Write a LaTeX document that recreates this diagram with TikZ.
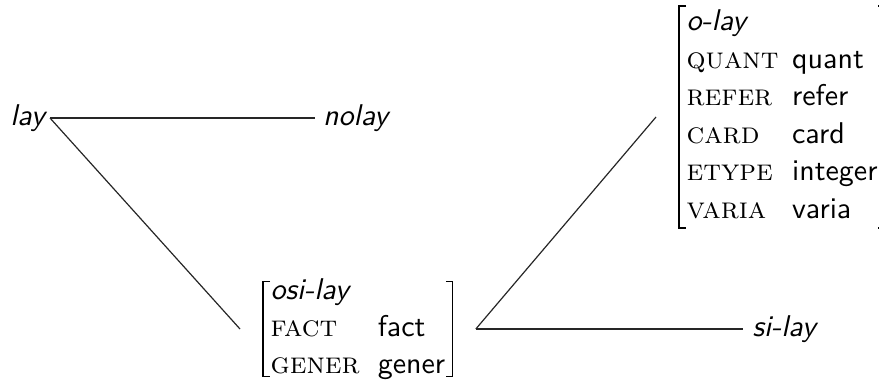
\documentclass[tikz,border=0pt]{standalone}
\usepackage{array}
\renewcommand{\arraystretch}{1.04}
\begin{document}
\begin{tikzpicture}[x=0.3333pt,y=-0.3333pt,
  lab/.style={font=\sffamily\itshape, inner sep=2pt},
  avmnode/.style={inner xsep=10pt, inner ysep=0pt},
  edge/.style={draw=black!85, line width=0.4pt},
  brk/.style={draw=black, line width=0.45pt}
]
\useasboundingbox (0,0) rectangle (879,380);
\node[lab,anchor=east,inner xsep=1.5pt] (lay) at (50,118) {lay};
\node[lab,anchor=west,inner xsep=2.5pt] (nolay) at (315,118) {nolay};
\node[avmnode,anchor=west] (osi) at (240,329) {$\begin{array}{@{}l@{\hspace{6pt}}l@{}}
\multicolumn{2}{@{}l}{\textsf{\textit{osi-lay}}}\\
\textsc{fact} & \textsf{fact}\\
\textsc{gener} & \textsf{gener}
\end{array}$};
\node[avmnode,anchor=west] (olay) at (656,117) {$\begin{array}{@{}l@{\hspace{4.5pt}}l@{}}
\multicolumn{2}{@{}l}{\textsf{\textit{o-lay}}}\\
\textsc{quant} & \textsf{quant}\\
\textsc{refer} & \textsf{refer}\\
\textsc{card} & \textsf{card}\\
\textsc{etype} & \textsf{integer}\\
\textsc{varia} & \textsf{varia}
\end{array}$};
\node[lab,anchor=west,inner xsep=3pt] (silay) at (743,329) {si-lay};
% brackets
\draw[brk] ([shift={(30,9)}]osi.north west) -- ([shift={(23,9)}]osi.north west)
  -- ([shift={(23,-9)}]osi.south west) -- ([shift={(30,-9)}]osi.south west);
\draw[brk] ([shift={(-30,9)}]osi.north east) -- ([shift={(-23,9)}]osi.north east)
  -- ([shift={(-23,-9)}]osi.south east) -- ([shift={(-30,-9)}]osi.south east);
\draw[brk] ([shift={(30,2)}]olay.north west) -- ([shift={(23,2)}]olay.north west)
  -- ([shift={(23,-2)}]olay.south west) -- ([shift={(30,-2)}]olay.south west);
\draw[brk] ([shift={(-30,2)}]olay.north east) -- ([shift={(-23,2)}]olay.north east)
  -- ([shift={(-23,-2)}]olay.south east) -- ([shift={(-30,-2)}]olay.south east);
% edges
\draw[edge] (lay.east) -- (nolay.west);
\draw[edge] (lay.east) -- (osi.west);
\draw[edge] (osi.east) -- (olay.west);
\draw[edge] (osi.east) -- (silay.west);
\end{tikzpicture}
\end{document}
